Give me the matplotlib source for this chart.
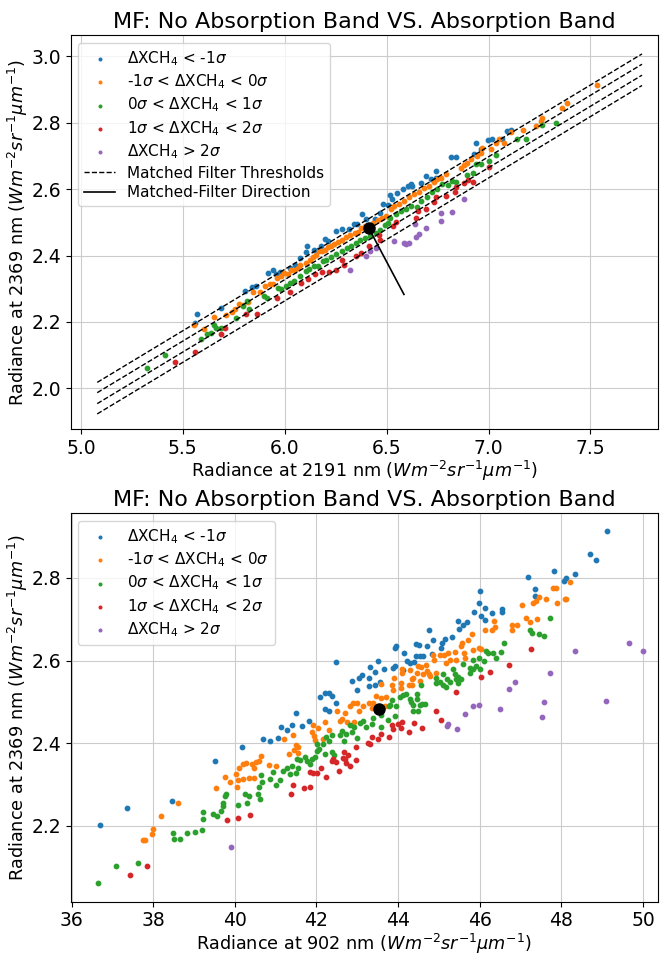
import numpy as np
import matplotlib
matplotlib.use('Agg')
import matplotlib.pyplot as plt

# ---- top panel: radiance at 2191 nm vs 2369 nm ----
top_lt_m1 = [(5.572, 2.223), (5.559, 2.198), (5.685, 2.242), (5.807, 2.292), (5.840, 2.305), (5.861, 2.308),
             (5.918, 2.348), (5.943, 2.355), (5.959, 2.343), (5.975, 2.350), (6.025, 2.363), (6.049, 2.373),
             (6.074, 2.393), (6.103, 2.410), (6.110, 2.428), (6.142, 2.416), (6.163, 2.418), (6.176, 2.428),
             (6.199, 2.450), (6.212, 2.445), (6.250, 2.473), (6.283, 2.480), (6.315, 2.480), (6.338, 2.496),
             (6.356, 2.496), (6.377, 2.526), (6.397, 2.510), (6.441, 2.510), (6.466, 2.528), (6.482, 2.555),
             (6.507, 2.553), (6.516, 2.583), (6.528, 2.570), (6.552, 2.587), (6.580, 2.600), (6.606, 2.610),
             (6.618, 2.615), (6.626, 2.610), (6.667, 2.617), (6.695, 2.640), (6.716, 2.632), (6.741, 2.655),
             (6.744, 2.633), (6.814, 2.697), (6.839, 2.697), (6.937, 2.738), (6.929, 2.705), (6.962, 2.722),
             (6.998, 2.747), (7.019, 2.752), (7.068, 2.752), (7.092, 2.775), (7.109, 2.777)]
top_m1_0 = [(5.556, 2.190), (5.603, 2.180), (5.654, 2.216), (5.714, 2.220), (5.739, 2.230), (5.758, 2.240),
            (5.774, 2.253), (5.796, 2.250), (5.820, 2.260), (5.845, 2.290), (5.877, 2.290), (5.905, 2.308),
            (5.926, 2.313), (5.943, 2.313), (5.962, 2.331), (5.984, 2.338), (5.995, 2.348), (6.016, 2.345),
            (6.029, 2.358), (6.049, 2.356), (6.065, 2.363), (6.077, 2.373), (6.106, 2.378), (6.126, 2.388),
            (6.139, 2.396), (6.152, 2.403), (6.168, 2.413), (6.185, 2.413), (6.196, 2.418), (6.212, 2.425),
            (6.229, 2.430), (6.242, 2.435), (6.261, 2.440), (6.283, 2.448), (6.302, 2.456), (6.322, 2.463),
            (6.343, 2.468), (6.359, 2.470), (6.376, 2.483), (6.392, 2.488), (6.433, 2.498), (6.458, 2.508),
            (6.479, 2.513), (6.498, 2.518), (6.520, 2.540), (6.536, 2.550), (6.561, 2.555), (6.585, 2.565),
            (6.610, 2.575), (6.634, 2.585), (6.659, 2.592), (6.683, 2.602), (6.708, 2.610), (6.733, 2.620),
            (6.749, 2.630), (6.765, 2.635), (6.790, 2.647), (6.863, 2.665), (6.880, 2.672), (6.896, 2.680),
            (6.912, 2.690), (6.945, 2.700), (6.962, 2.710), (6.970, 2.725), (7.011, 2.722), (7.035, 2.740),
            (7.052, 2.750), (7.076, 2.738), (7.109, 2.772), (7.169, 2.777), (7.232, 2.790), (7.256, 2.805),
            (7.264, 2.815), (7.359, 2.845), (7.387, 2.858), (7.534, 2.913)]
top_0_1 = [(5.325, 2.060), (5.413, 2.101), (5.590, 2.148), (5.621, 2.165), (5.636, 2.166), (5.652, 2.190),
           (5.665, 2.182), (5.687, 2.181), (5.763, 2.213), (5.796, 2.248), (5.817, 2.263), (5.825, 2.238),
           (5.899, 2.278), (5.913, 2.273), (5.967, 2.303), (5.984, 2.298), (6.008, 2.308), (6.025, 2.318),
           (6.046, 2.323), (6.074, 2.338), (6.103, 2.353), (6.119, 2.360), (6.142, 2.368), (6.163, 2.370),
           (6.188, 2.383), (6.204, 2.388), (6.229, 2.396), (6.253, 2.406), (6.283, 2.413), (6.306, 2.423),
           (6.327, 2.430), (6.348, 2.438), (6.368, 2.448), (6.392, 2.453), (6.417, 2.458), (6.446, 2.468),
           (6.466, 2.478), (6.490, 2.493), (6.507, 2.498), (6.516, 2.512), (6.544, 2.525), (6.569, 2.535),
           (6.597, 2.540), (6.618, 2.550), (6.651, 2.547), (6.667, 2.565), (6.700, 2.575), (6.724, 2.590),
           (6.749, 2.600), (6.773, 2.615), (6.803, 2.612), (6.822, 2.625), (6.839, 2.620), (6.896, 2.642),
           (6.924, 2.650), (6.937, 2.675), (6.962, 2.677), (7.002, 2.685), (7.035, 2.702), (7.142, 2.750),
           (7.183, 2.750), (7.264, 2.792), (7.330, 2.800)]
top_1_2 = [(5.461, 2.080), (5.560, 2.110), (5.685, 2.165), (5.709, 2.181), (5.812, 2.225), (5.866, 2.225),
           (5.962, 2.273), (6.025, 2.290), (6.078, 2.316), (6.114, 2.328), (6.149, 2.343), (6.181, 2.350),
           (6.217, 2.350), (6.253, 2.358), (6.283, 2.386), (6.289, 2.373), (6.348, 2.398), (6.376, 2.408),
           (6.413, 2.428), (6.462, 2.463), (6.466, 2.448), (6.533, 2.490), (6.544, 2.502), (6.646, 2.512),
           (6.656, 2.535), (6.692, 2.540), (6.733, 2.560), (6.741, 2.575), (6.790, 2.580), (6.834, 2.590),
           (6.839, 2.605), (6.880, 2.618), (6.900, 2.627), (6.926, 2.622), (7.000, 2.667)]
top_gt_2 = [(6.319, 2.356), (6.400, 2.398), (6.420, 2.415), (6.446, 2.423), (6.536, 2.445), (6.585, 2.437),
            (6.597, 2.435), (6.608, 2.438), (6.641, 2.495), (6.643, 2.455), (6.659, 2.465), (6.692, 2.483),
            (6.765, 2.503), (6.769, 2.528), (6.819, 2.530), (6.880, 2.570)]

# matched filter thresholds (y = slope * x + offset)
thr_x = [5.08, 7.753]
thr_slope = 0.37
thr_offsets = [0.1385, 0.1075, 0.0745, 0.0435]
mean_top = (6.413, 2.482)
mf_dir_end = (6.585, 2.283)

# ---- bottom panel: radiance at 902 nm vs 2369 nm ----
bot_lt_m1 = [(36.69, 2.201), (37.35, 2.243), (38.45, 2.260), (39.51, 2.358), (40.17, 2.391), (40.69, 2.409),
             (40.86, 2.405), (41.06, 2.412), (41.13, 2.438), (41.29, 2.433), (41.41, 2.445), (41.65, 2.442),
             (41.82, 2.453), (41.51, 2.474), (42.08, 2.511), (42.21, 2.522), (42.31, 2.522), (42.37, 2.514),
             (42.20, 2.483), (42.31, 2.479), (42.49, 2.498), (42.49, 2.597), (42.87, 2.551), (43.00, 2.528),
             (43.04, 2.558), (43.12, 2.565), (43.29, 2.558), (43.29, 2.538), (43.43, 2.540), (43.31, 2.585),
             (43.43, 2.573), (43.51, 2.598), (43.65, 2.580), (43.55, 2.549), (43.92, 2.630), (43.94, 2.635),
             (44.14, 2.617), (43.88, 2.583), (43.92, 2.587), (44.11, 2.577), (44.22, 2.598), (44.30, 2.595),
             (44.38, 2.596), (44.43, 2.639), (44.51, 2.638), (44.45, 2.612), (44.53, 2.610), (44.61, 2.610),
             (44.72, 2.634), (44.76, 2.673), (44.86, 2.649), (44.83, 2.616), (45.04, 2.631), (45.08, 2.642),
             (45.16, 2.652), (45.32, 2.657), (45.47, 2.696), (45.49, 2.677), (45.59, 2.685), (45.70, 2.694),
             (45.85, 2.718), (45.98, 2.740), (46.01, 2.769), (46.04, 2.707), (46.14, 2.728), (46.12, 2.698),
             (46.29, 2.714), (46.54, 2.724), (46.54, 2.718), (47.19, 2.802), (47.36, 2.773), (47.36, 2.755),
             (47.81, 2.816), (48.06, 2.792), (48.11, 2.800), (48.33, 2.809), (48.69, 2.857), (48.84, 2.844),
             (49.13, 2.914)]
bot_m1_0 = [(37.76, 2.165), (37.80, 2.165), (37.98, 2.181), (38.00, 2.192), (38.20, 2.224), (38.61, 2.255),
            (39.53, 2.292), (39.76, 2.318), (39.87, 2.307), (40.02, 2.325), (40.06, 2.294), (40.09, 2.310),
            (40.11, 2.341), (40.19, 2.349), (40.27, 2.351), (40.20, 2.314), (40.34, 2.316), (40.42, 2.349),
            (40.47, 2.315), (40.47, 2.339), (40.51, 2.355), (40.59, 2.357), (40.64, 2.370), (40.84, 2.347),
            (41.02, 2.345), (41.21, 2.409), (41.33, 2.373), (41.43, 2.420), (41.46, 2.384), (41.51, 2.396),
            (41.54, 2.377), (41.56, 2.392), (41.89, 2.428), (41.92, 2.445), (41.93, 2.418), (41.97, 2.408),
            (42.03, 2.437), (42.16, 2.410), (42.22, 2.452), (42.31, 2.432), (42.51, 2.479), (42.57, 2.453),
            (42.63, 2.459), (42.71, 2.473), (42.75, 2.452), (42.83, 2.491), (42.90, 2.498), (42.92, 2.452),
            (43.00, 2.498), (43.04, 2.477), (43.14, 2.489), (43.29, 2.498), (43.36, 2.485), (43.39, 2.498),
            (43.47, 2.514), (43.57, 2.544), (43.59, 2.510), (43.70, 2.511), (43.67, 2.491), (43.89, 2.558),
            (43.84, 2.540), (43.88, 2.528), (44.10, 2.579), (44.10, 2.569), (44.08, 2.546), (44.06, 2.534),
            (44.29, 2.577), (44.33, 2.555), (44.27, 2.540), (44.35, 2.540), (44.37, 2.557), (44.47, 2.569),
            (44.49, 2.587), (44.56, 2.584), (44.53, 2.551), (44.60, 2.567), (44.69, 2.588), (44.71, 2.575),
            (44.75, 2.567), (44.78, 2.563), (44.86, 2.614), (44.88, 2.601), (44.92, 2.569), (45.02, 2.614),
            (45.12, 2.614), (45.18, 2.595), (45.22, 2.618), (45.28, 2.601), (45.39, 2.620), (45.41, 2.602),
            (45.53, 2.635), (45.57, 2.642), (45.61, 2.618), (45.65, 2.606), (45.72, 2.649), (45.81, 2.663),
            (45.84, 2.626), (45.99, 2.631), (46.04, 2.628), (46.13, 2.673), (46.31, 2.675), (46.34, 2.695),
            (46.37, 2.682), (46.78, 2.673), (46.79, 2.685), (46.92, 2.685), (47.04, 2.734), (47.13, 2.703),
            (47.24, 2.693), (47.31, 2.738), (47.39, 2.745), (47.41, 2.701), (47.45, 2.753), (47.63, 2.750),
            (47.80, 2.775), (47.88, 2.776), (47.89, 2.738), (48.08, 2.750), (48.11, 2.750), (48.22, 2.791)]
bot_0_1 = [(36.64, 2.062), (37.08, 2.103), (37.64, 2.111), (38.49, 2.182), (38.51, 2.168), (38.66, 2.168),
           (38.82, 2.182), (39.02, 2.184), (39.20, 2.189), (39.22, 2.216), (39.22, 2.234), (39.47, 2.229),
           (39.57, 2.224), (39.67, 2.237), (39.70, 2.249), (39.71, 2.256), (39.76, 2.273), (39.79, 2.277),
           (40.08, 2.250), (40.26, 2.278), (40.29, 2.256), (40.34, 2.273), (40.57, 2.277), (40.59, 2.294),
           (40.62, 2.265), (40.66, 2.306), (40.64, 2.322), (40.87, 2.314), (40.94, 2.331), (41.00, 2.298),
           (41.10, 2.310), (41.17, 2.333), (41.27, 2.339), (41.35, 2.325), (41.40, 2.345), (41.49, 2.327),
           (41.54, 2.341), (41.53, 2.361), (41.59, 2.359), (41.73, 2.367), (41.77, 2.357), (41.85, 2.349),
           (41.90, 2.361), (41.97, 2.367), (42.02, 2.380), (42.02, 2.398), (42.07, 2.386), (42.15, 2.398),
           (42.20, 2.375), (42.24, 2.414), (42.31, 2.405), (42.38, 2.420), (42.39, 2.378), (42.44, 2.372),
           (42.57, 2.421), (42.63, 2.429), (42.68, 2.405), (42.72, 2.423), (42.83, 2.445), (42.88, 2.428),
           (42.93, 2.439), (43.00, 2.412), (43.06, 2.448), (43.14, 2.453), (43.22, 2.438), (43.35, 2.446),
           (43.39, 2.460), (43.59, 2.469), (43.57, 2.439), (43.76, 2.457), (43.78, 2.489), (43.81, 2.493),
           (43.84, 2.504), (43.92, 2.467), (43.96, 2.489), (44.04, 2.512), (44.12, 2.516), (44.20, 2.520),
           (44.29, 2.508), (44.32, 2.500), (44.37, 2.493), (44.47, 2.520), (44.47, 2.508), (44.53, 2.493),
           (44.59, 2.496), (44.65, 2.496), (44.49, 2.479), (44.37, 2.477), (44.57, 2.540), (44.92, 2.557),
           (44.94, 2.546), (45.02, 2.549), (45.09, 2.567), (45.10, 2.540), (45.18, 2.536), (45.20, 2.555),
           (45.28, 2.547), (45.35, 2.579), (45.39, 2.567), (45.41, 2.555), (45.47, 2.561), (45.47, 2.546),
           (45.53, 2.555), (45.59, 2.591), (45.76, 2.583), (45.77, 2.571), (45.84, 2.602), (45.84, 2.579),
           (45.92, 2.587), (45.98, 2.605), (46.00, 2.579), (46.10, 2.598), (46.16, 2.622), (46.20, 2.618),
           (46.33, 2.618), (46.41, 2.606), (46.51, 2.620), (46.59, 2.643), (47.22, 2.675), (47.27, 2.667),
           (47.44, 2.665), (47.57, 2.660), (47.71, 2.702)]
bot_1_2 = [(37.44, 2.081), (37.86, 2.104), (39.82, 2.213), (40.07, 2.220), (40.37, 2.227), (41.37, 2.276),
           (41.43, 2.298), (41.69, 2.292), (41.84, 2.293), (41.83, 2.330), (41.92, 2.328), (42.02, 2.329),
           (42.12, 2.341), (42.24, 2.318), (42.37, 2.358), (42.41, 2.361), (42.49, 2.354), (42.56, 2.333),
           (42.68, 2.379), (42.64, 2.363), (42.71, 2.361), (42.72, 2.351), (42.83, 2.346), (42.78, 2.371),
           (42.96, 2.359), (42.96, 2.391), (43.27, 2.400), (43.32, 2.398), (43.35, 2.414), (43.51, 2.410),
           (43.58, 2.422), (43.78, 2.414), (43.84, 2.444), (43.88, 2.434), (44.00, 2.446), (44.10, 2.452),
           (44.08, 2.436), (44.27, 2.426), (44.38, 2.449), (44.59, 2.436), (44.92, 2.479), (45.04, 2.456),
           (45.43, 2.524), (46.04, 2.559), (46.24, 2.573), (46.72, 2.588), (47.25, 2.627)]
bot_gt_2 = [(39.90, 2.149), (45.20, 2.442), (45.22, 2.446), (45.45, 2.434), (45.65, 2.471), (45.84, 2.489),
            (45.97, 2.493), (46.50, 2.482), (46.71, 2.530), (46.86, 2.547), (47.53, 2.463), (47.57, 2.500),
            (47.71, 2.569), (48.34, 2.624), (49.10, 2.503), (49.66, 2.643), (50.00, 2.622)]
mean_bot = (43.53, 2.483)

labels = [r'$\Delta$XCH$_4$ < -1$\sigma$', r'-1$\sigma$ < $\Delta$XCH$_4$ < 0$\sigma$',
          r'0$\sigma$ < $\Delta$XCH$_4$ < 1$\sigma$', r'1$\sigma$ < $\Delta$XCH$_4$ < 2$\sigma$',
          r'$\Delta$XCH$_4$ > 2$\sigma$']
colors = ['C0', 'C1', 'C2', 'C3', 'C4']
unit = r'($Wm^{-2}sr^{-1}\mu m^{-1}$)'

fig = plt.figure(figsize=(6.61, 9.56), dpi=100)
ax1 = fig.add_axes([0.107, 0.551, 0.888, 0.412])
ax2 = fig.add_axes([0.107, 0.057, 0.888, 0.406])

for ax, groups in [(ax1, [top_lt_m1, top_m1_0, top_0_1, top_1_2, top_gt_2]),
                   (ax2, [bot_lt_m1, bot_m1_0, bot_0_1, bot_1_2, bot_gt_2])]:
    for pts, c, lab in zip(groups, colors, labels):
        pts = np.array(pts)
        ax.scatter(pts[:, 0], pts[:, 1], s=10, color=c, label=lab, zorder=2)
    ax.grid(True, color='#cccccc', linewidth=0.8)
    ax.set_axisbelow(True)
    ax.tick_params(labelsize=13.5)

# thresholds + direction on the top panel
xx = np.array(thr_x)
for i, off in enumerate(thr_offsets):
    ax1.plot(xx, thr_slope * xx + off, 'k--', lw=1.0, zorder=3,
             label='Matched Filter Thresholds' if i == 0 else None)
ax1.plot([mean_top[0], mf_dir_end[0]], [mean_top[1], mf_dir_end[1]], 'k-', lw=1.2, zorder=4,
         label='Matched-Filter Direction')
ax1.plot(*mean_top, 'ko', ms=8, zorder=5)
ax2.plot(*mean_bot, 'ko', ms=8, zorder=5)

ax1.set_xlim(4.95, 7.83)
ax1.set_ylim(1.877, 3.063)
ax2.set_xlim(35.98, 50.36)
ax2.set_ylim(2.017, 2.956)

for ax in (ax1, ax2):
    ax.set_title('MF: No Absorption Band VS. Absorption Band', fontsize=16, pad=5)
ax1.set_xlabel('Radiance at 2191 nm ' + unit, fontsize=12.7, labelpad=1)
ax1.set_ylabel('Radiance at 2369 nm ' + unit, fontsize=12.7, labelpad=1)
ax2.set_xlabel('Radiance at 902 nm ' + unit, fontsize=12.7, labelpad=1)
ax2.set_ylabel('Radiance at 2369 nm ' + unit, fontsize=12.7, labelpad=1)

ax1.legend(loc='upper left', fontsize=11, markerscale=0.6, labelspacing=0.3)
ax2.legend(loc='upper left', fontsize=11, markerscale=0.6, labelspacing=0.3)

fig.savefig('out.png', dpi=100)
